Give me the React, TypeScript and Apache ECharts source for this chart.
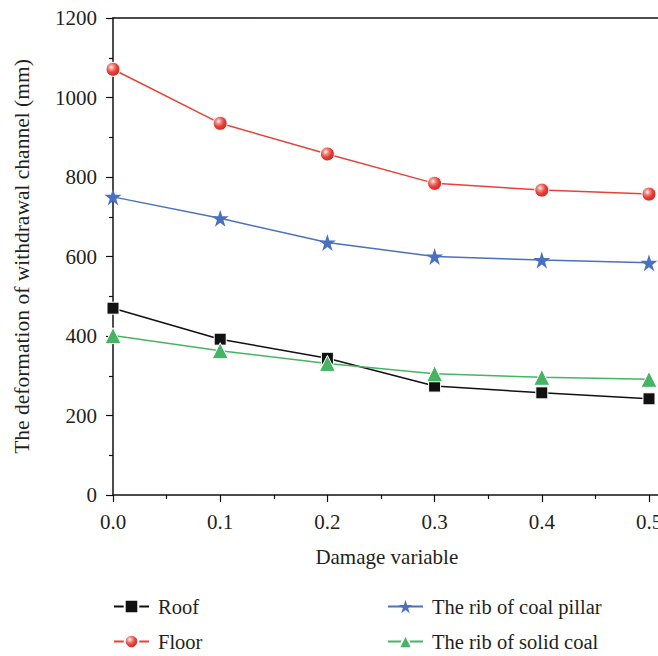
import React, { useEffect, useRef } from "react";
import * as echarts from "echarts";

const damage = [0.0, 0.1, 0.2, 0.3, 0.4, 0.5];
const roof = [470, 392, 344, 274, 257, 242];
const floor = [1071, 935, 858, 784, 767, 757];
const coalPillar = [750, 696, 635, 600, 591, 584];
const solidCoal = [401, 363, 331, 305, 296, 291];
const seriesNames = ["Roof", "Floor", "The rib of coal pillar", "The rib of solid coal"];

const FONT = "Liberation Serif";
const TXT = "#231f20";

const pair = (ys: number[]) => damage.map((x, i) => [x, ys[i]]);

export default function App() {
  const ref = useRef<HTMLDivElement>(null);
  useEffect(() => {
    if (!ref.current) return;
    const chart = echarts.init(ref.current, null, { renderer: "svg" });
    const ball = {
      type: "radial",
      x: 0.38,
      y: 0.35,
      r: 0.7,
      colorStops: [
        { offset: 0, color: "#ffffff" },
        { offset: 0.22, color: "#f39a94" },
        { offset: 0.55, color: "#e8413a" },
        { offset: 1, color: "#c9251f" },
      ],
    };
    const legendPos = [
      [113, 596],
      [113, 631],
      [387, 596],
      [387, 631],
    ];
    const legends = seriesNames.map((n, i) => ({
      data: [n],
      left: legendPos[i][0],
      top: legendPos[i][1],
      itemWidth: 35,
      itemHeight: 17,
      padding: 0,
      textStyle: { fontFamily: FONT, fontSize: 20.5, color: TXT, padding: [0, 0, 0, 4] },
    }));
    chart.setOption({
      animation: false,
      backgroundColor: "#ffffff",
      textStyle: { fontFamily: FONT, color: TXT },
      grid: { left: 113, top: 18, width: 589.6, height: 477 },
      legend: legends,
      xAxis: [
        {
          type: "value",
          min: 0,
          max: 0.55,
          interval: 0.1,
          name: "Damage variable",
          nameLocation: "middle",
          nameGap: 51,
          nameTextStyle: { fontFamily: FONT, fontSize: 21, color: TXT, padding: [0, 42, 0, 0] },
          axisLine: { show: true, lineStyle: { color: "#111", width: 1.5 } },
          axisTick: { show: true, inside: false, length: 7, lineStyle: { color: "#111", width: 1.2 } },
          minorTick: { show: true, splitNumber: 2, length: 4, lineStyle: { color: "#111", width: 1.2 } },
          axisLabel: {
            fontFamily: FONT,
            fontSize: 21,
            color: TXT,
            margin: 16,
            formatter: (v: number) => (Math.abs(v - 0.55) < 1e-6 ? "" : v.toFixed(1)),
          },
          splitLine: { show: false },
        },
        {
          type: "value",
          position: "top",
          min: 0,
          max: 0.55,
          axisLine: { show: true, lineStyle: { color: "#111", width: 1.5 } },
          axisTick: { show: false },
          axisLabel: { show: false },
          splitLine: { show: false },
        },
      ],
      yAxis: {
        type: "value",
        min: 0,
        max: 1200,
        interval: 200,
        name: "The deformation of withdrawal channel (mm)",
        nameLocation: "middle",
        nameGap: 80,
        nameTextStyle: { fontFamily: FONT, fontSize: 21.5, color: TXT },
        axisLine: { show: true, lineStyle: { color: "#111", width: 1.5 } },
        axisTick: { show: true, inside: false, length: 7, lineStyle: { color: "#111", width: 1.2 } },
        minorTick: { show: true, splitNumber: 2, length: 4, lineStyle: { color: "#111", width: 1.2 } },
        axisLabel: {
          fontFamily: FONT,
          fontSize: 21,
          color: TXT,
          margin: 16,
          formatter: (v: number) => String(v),
        },
        splitLine: { show: false },
      },
      series: [
        {
          name: "Roof",
          type: "line",
          data: pair(roof),
          symbol: "rect",
          symbolSize: 12,
          lineStyle: { color: "#111111", width: 1.5 },
          itemStyle: { color: "#111111", borderColor: "#ffffff", borderWidth: 1 },
        },
        {
          name: "Floor",
          type: "line",
          data: pair(floor),
          symbol: "circle",
          symbolSize: 14,
          lineStyle: { color: "#e8413a", width: 1.5 },
          itemStyle: { color: ball, borderColor: "#ffffff", borderWidth: 1 },
        },
        {
          name: "The rib of coal pillar",
          type: "line",
          data: pair(coalPillar),
          symbol: "path://M50,0 L61.8,35.5 L100,35.5 L69.1,57.6 L80.9,93.1 L50,71 L19.1,93.1 L30.9,57.6 L0,35.5 L38.2,35.5 Z",
          symbolSize: 17,
          lineStyle: { color: "#4a70c0", width: 1.5 },
          itemStyle: { color: "#4a70c0", borderWidth: 0 },
        },
        {
          name: "The rib of solid coal",
          type: "line",
          data: pair(solidCoal),
          symbol: "triangle",
          symbolSize: 16,
          lineStyle: { color: "#45b564", width: 1.5 },
          itemStyle: { color: "#45b564", borderColor: "#ffffff", borderWidth: 1 },
        },
      ],
    });
    return () => chart.dispose();
  }, []);
  return (
    <div
      style={{
        position: "fixed",
        left: 0,
        top: 0,
        width: 658,
        height: 656,
        overflow: "hidden",
        background: "#fff",
      }}
    >
      <div ref={ref} style={{ width: 720, height: 656 }} />
    </div>
  );
}
